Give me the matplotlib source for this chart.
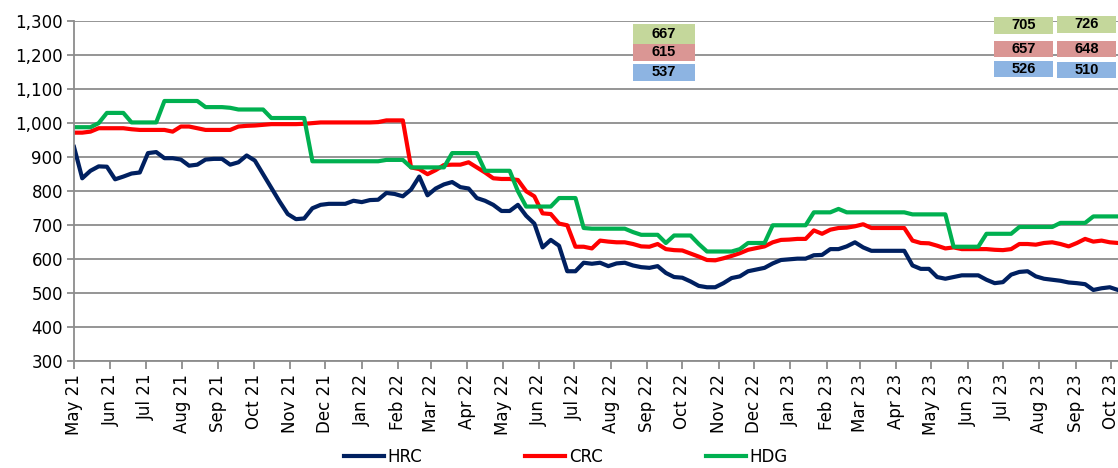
import matplotlib
matplotlib.use("Agg")
import matplotlib.pyplot as plt
import matplotlib.dates as mdates
from matplotlib.patches import Rectangle
from matplotlib.ticker import FuncFormatter, MultipleLocator
import pandas as pd

# weekly steel prices, May 2021 - Oct 2023
dates = pd.date_range("2021-05-01", periods=128, freq="7D")

hrc = [930, 838, 860, 873, 872, 835, 843, 852, 855, 912,
       915, 897, 897, 893, 875, 878, 893, 895, 895, 878,
       885, 905, 890, 850, 810, 770, 733, 718, 720, 750,
       760, 763, 763, 763, 772, 768, 774, 775, 795, 792,
       785, 805, 843, 788, 808, 820, 827, 812, 808, 780,
       772, 760, 742, 742, 760, 728, 705, 635, 657, 640,
       565, 565, 590, 587, 590, 580, 588, 590, 582, 577,
       575, 580, 560, 548, 546, 535, 522, 518, 518, 530,
       545, 550, 565, 570, 575, 588, 598, 600, 602, 602,
       612, 613, 630, 630, 638, 650, 635, 625, 625, 625,
       625, 625, 582, 572, 572, 548, 543, 548, 553, 553,
       553, 540, 530, 533, 555, 563, 565, 550, 543, 540,
       537, 532, 530, 527, 510, 515, 518, 510]

crc = [972, 972, 975, 985, 985, 985, 985, 982, 980, 980,
       980, 980, 975, 990, 990, 985, 980, 980, 980, 980,
       990, 992, 993, 995, 997, 997, 997, 997, 998, 1000,
       1002, 1002, 1002, 1002, 1002, 1002, 1002, 1003, 1008, 1008,
       1008, 870, 865, 850, 862, 877, 878, 878, 885, 870,
       855, 838, 836, 836, 833, 800, 785, 735, 733, 705,
       700, 637, 637, 632, 655, 652, 650, 650, 645, 638,
       637, 645, 630, 627, 626, 617, 608, 598, 597, 603,
       610, 618, 628, 633, 638, 650, 657, 658, 660, 660,
       685, 675, 687, 692, 693, 697, 703, 692, 692, 692,
       692, 692, 655, 648, 647, 640, 632, 635, 630, 630,
       630, 630, 628, 627, 630, 645, 645, 643, 648, 650,
       645, 638, 648, 660, 652, 655, 650, 648]

hdg = [988, 988, 988, 1000, 1030, 1030, 1030, 1002, 1002, 1002,
       1002, 1065, 1065, 1065, 1065, 1065, 1047, 1047, 1047, 1045,
       1040, 1040, 1040, 1040, 1015, 1015, 1015, 1015, 1015, 888,
       888, 888, 888, 888, 888, 888, 888, 888, 892, 892,
       892, 870, 870, 870, 870, 870, 912, 912, 912, 912,
       860, 860, 860, 860, 800, 755, 755, 755, 755, 780,
       780, 780, 692, 690, 690, 690, 690, 690, 680, 672,
       672, 672, 648, 670, 670, 670, 645, 623, 623, 623,
       623, 630, 648, 648, 648, 700, 700, 700, 700, 700,
       738, 738, 738, 748, 738, 738, 738, 738, 738, 738,
       738, 738, 732, 732, 732, 732, 732, 637, 637, 637,
       637, 675, 675, 675, 675, 695, 695, 695, 695, 695,
       707, 707, 707, 707, 726, 726, 726, 726]

# boxed value labels (hdg, crc, hrc) for three periods
box_hdg = ["667", "705", "726"]
box_crc = ["615", "657", "648"]
box_hrc = ["537", "526", "510"]

fig = plt.figure(figsize=(11.18, 4.68), dpi=100)
ax = fig.add_axes([0.0662, 0.2276, 0.9338, 0.7276])

ax.plot(dates, hrc, color="#002060", lw=3, label="HRC")
ax.plot(dates, crc, color="#FF0000", lw=3, label="CRC")
ax.plot(dates, hdg, color="#00B050", lw=3, label="HDG")

ax.set_ylim(300, 1300)
ax.set_xlim(pd.Timestamp("2021-05-01"), pd.Timestamp("2023-10-07"))
ax.yaxis.set_major_locator(MultipleLocator(100))
ax.yaxis.set_major_formatter(FuncFormatter(lambda v, p: f"{v:,.0f}"))
ax.xaxis.set_major_locator(mdates.MonthLocator())
ax.xaxis.set_major_formatter(mdates.DateFormatter("%b %y"))
plt.setp(ax.get_xticklabels(), rotation=90)

ax.grid(axis="y", color="#8c8c8c", lw=1.3)
ax.set_axisbelow(True)
for s in ["top", "right"]:
    ax.spines[s].set_visible(False)
for s in ["left", "bottom"]:
    ax.spines[s].set_color("#8c8c8c")
    ax.spines[s].set_linewidth(1.3)
ax.tick_params(axis="x", length=6, width=1.3, color="#8c8c8c", labelsize=12, pad=3)
ax.tick_params(axis="y", length=5, width=1.3, color="#8c8c8c", labelsize=12, pad=3)

# label boxes, positions in axes fractions
cols = [(0.5354, 0.5948), (0.8812, 0.9378), (0.9416, 0.9981)]
rows = [(box_hdg, "#C4D79B", [(0.9325, 0.991), (0.9618, 1.0117), (0.9648, 1.0147)]),
        (box_crc, "#DA9694", [(0.8825, 0.9325), (0.8943, 0.9413), (0.8943, 0.9413)]),
        (box_hrc, "#8DB4E2", [(0.8238, 0.8737), (0.8355, 0.8825), (0.8326, 0.8796)])]
for labels, fc, ys in rows:
    for (x0, x1), (y0, y1), lab in zip(cols, ys, labels):
        ax.add_patch(Rectangle((x0, y0), x1 - x0, y1 - y0, transform=ax.transAxes,
                               facecolor=fc, edgecolor="none", clip_on=False, zorder=5))
        ax.text((x0 + x1) / 2, (y0 + y1) / 2, lab, transform=ax.transAxes,
                ha="center", va="center", fontsize=10.5, fontweight="bold",
                family="Liberation Sans", zorder=6)

fig.legend(loc="center", bbox_to_anchor=(0.506, 0.024), ncol=3, frameon=False,
           fontsize=12, handlelength=2.4, handletextpad=0.2, columnspacing=6.2)

fig.savefig("out.png", dpi=100)
